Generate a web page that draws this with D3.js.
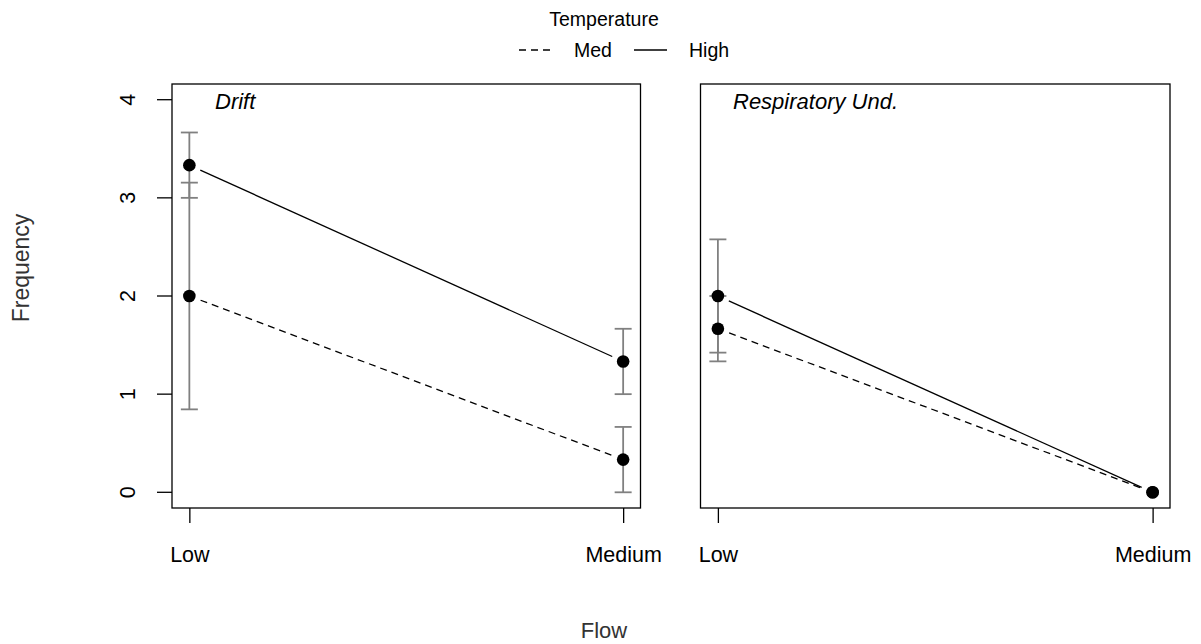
<!DOCTYPE html>
<html><head><meta charset="utf-8">
<script src="https://cdn.jsdelivr.net/npm/d3@7"></script>
<style>body{margin:0;background:#fff}svg{display:block}text{font-family:"Liberation Sans",Arial,sans-serif;fill:#000}</style>
</head><body><svg id="c" width="1201" height="644"></svg>
<script>
const panels = ["Drift", "Respiratory Und."];
const flows = ["Low", "Medium"];
const temps = ["Med", "High"];
const yTicks = [0, 1, 2, 3, 4];
// means [flow]
const driftMed = [2.0, 0.333];
const driftHigh = [3.333, 1.333];
const respMed = [1.667, 0.0];
const respHigh = [2.0, 0.0];
// standard errors
const driftMedSE = [1.155, 0.333];
const driftHighSE = [0.333, 0.333];
const respMedSE = [0.333, 0.0];
const respHighSE = [0.577, 0.0];

const data = [
  {title: panels[0], series: [{temp: temps[0], m: driftMed, se: driftMedSE}, {temp: temps[1], m: driftHigh, se: driftHighSE}]},
  {title: panels[1], series: [{temp: temps[0], m: respMed, se: respMedSE}, {temp: temps[1], m: respHigh, se: respHighSE}]}
];

const FONT = "Liberation Sans, Arial, sans-serif";
const svg = d3.select("#c");
const yTop = 84, yBot = 508;
const boxes = [[172, 640.5], [700.5, 1170]];
const y = d3.scaleLinear().domain([-0.16, 4.16]).range([yBot, yTop]);

data.forEach((p, pi) => {
  const [x0, x1] = boxes[pi];
  const x = d3.scaleLinear().domain([1 - 0.04, 2 + 0.04]).range([x0, x1]);
  const g = svg.append("g");
  // lines with gaps around points
  p.series.forEach(s => {
    const ax = x(1), ay = y(s.m[0]), bx = x(2), by = y(s.m[1]);
    const dx = bx - ax, dy = by - ay, L = Math.hypot(dx, dy), gap = 12;
    g.append("line")
      .attr("x1", ax + dx / L * gap).attr("y1", ay + dy / L * gap)
      .attr("x2", bx - dx / L * gap).attr("y2", by - dy / L * gap)
      .attr("stroke", "#000").attr("stroke-width", 1.3)
      .attr("stroke-dasharray", s.temp === "Med" ? "7,5" : null);
  });
  // error bars
  p.series.forEach(s => {
    s.m.forEach((m, fi) => {
      if (s.se[fi] <= 0) return;
      const cx = x(fi + 1), lo = y(m - s.se[fi]), hi = y(m + s.se[fi]);
      g.append("line").attr("x1", cx).attr("x2", cx).attr("y1", lo).attr("y2", hi).attr("stroke", "#808080").attr("stroke-width", 1.8);
      [lo, hi].forEach(v => g.append("line").attr("x1", cx - 8.5).attr("x2", cx + 8.5).attr("y1", v).attr("y2", v).attr("stroke", "#808080").attr("stroke-width", 1.8));
    });
  });
  // points
  p.series.forEach(s => {
    s.m.forEach((m, fi) => {
      g.append("circle").attr("cx", x(fi + 1)).attr("cy", y(m)).attr("r", 6.3).attr("fill", "#000");
    });
  });
  // box
  g.append("rect").attr("x", x0).attr("y", yTop).attr("width", x1 - x0).attr("height", yBot - yTop)
    .attr("fill", "none").attr("stroke", "#000").attr("stroke-width", 1.3);
  // x axis
  const xa = d3.axisBottom(x).tickValues([1, 2]).tickFormat(d => flows[d - 1]).tickSize(15).tickSizeOuter(0).tickPadding(24);
  const xg = g.append("g").attr("transform", `translate(0,${yBot})`).call(xa);
  xg.select(".domain").remove();
  xg.selectAll("line").attr("stroke", "#000").attr("stroke-width", 1.3);
  xg.selectAll("text").attr("font-size", 21.5).style("font-family", FONT);
  // panel title
  g.append("text").attr("x", pi === 0 ? 215 : 733).attr("y", 109).attr("font-size", 22).attr("font-style", "italic").text(p.title);
  if (pi === 0) {
    const ya = d3.axisLeft(y).tickValues(yTicks).tickFormat(d3.format("d")).tickSize(15).tickSizeOuter(0);
    const yg = g.append("g").attr("transform", `translate(${x0},0)`).call(ya);
    yg.select(".domain").remove();
    yg.selectAll("line").attr("stroke", "#000").attr("stroke-width", 1.3);
    yg.selectAll(".tick").attr("transform", null);
    yg.selectAll(".tick line").attr("y1", d => y(d)).attr("y2", d => y(d));
    yg.selectAll("text").attr("font-size", 21.5).style("font-family", FONT)
      .attr("text-anchor", "middle").attr("dy", null).attr("x", 0).attr("y", 0)
      .attr("transform", d => `translate(-37,${y(d)}) rotate(-90)`);
  }
});

// axis titles
svg.append("text").attr("x", 604).attr("y", 638).attr("text-anchor", "middle").attr("font-size", 22).style("fill", "#333").text("Flow");
svg.append("text").attr("transform", "translate(29,268) rotate(-90)").attr("text-anchor", "middle").attr("font-size", 23).style("fill", "#333").text("Frequency");

// legend
svg.append("text").attr("x", 604).attr("y", 26).attr("text-anchor", "middle").attr("font-size", 19.5).text("Temperature");
const leg = [{t: temps[0], x: 519, dash: "7,5"}, {t: temps[1], x: 634, dash: null}];
leg.forEach(l => {
  svg.append("line").attr("x1", l.x).attr("x2", l.x + 33).attr("y1", 50).attr("y2", 50).attr("stroke", "#000").attr("stroke-width", 1.3).attr("stroke-dasharray", l.dash);
  svg.append("text").attr("x", l.x + 55).attr("y", 57).attr("font-size", 19.5).text(l.t);
});
</script></body></html>
